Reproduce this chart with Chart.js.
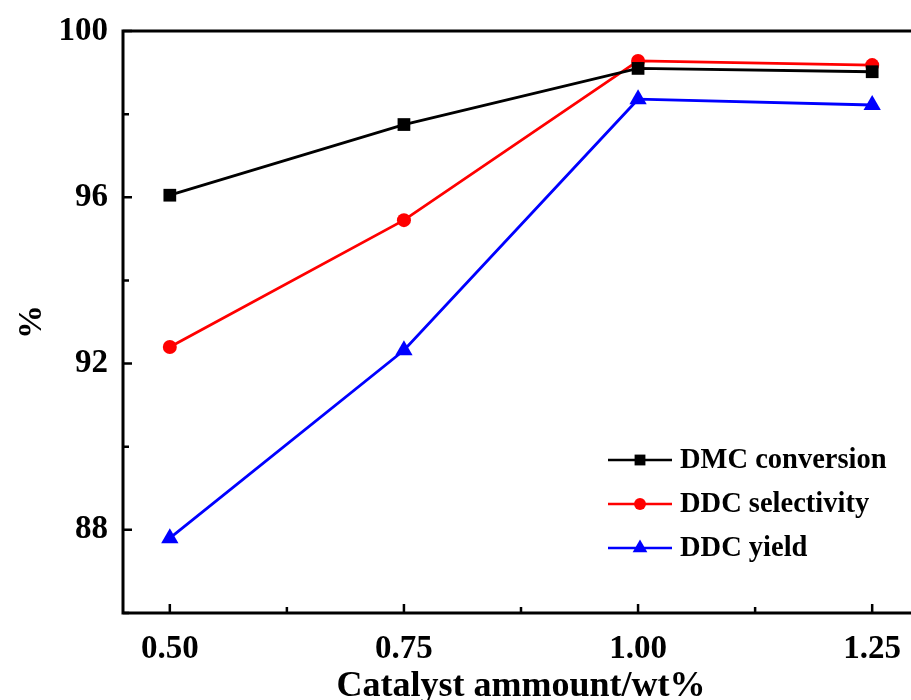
<!DOCTYPE html>
<html lang="en">
<head>
    <meta charset="UTF-8">
    <title>Catalyst amount</title>
    <script src="https://cdn.jsdelivr.net/npm/chart.js"></script>
    <style>
        body {
            margin: 0;
            background: #fff;
            overflow: hidden;
        }
        .wrap {
            width: 940px;
            height: 700px;
        }
    </style>
</head>
<body>
    <div class="wrap">
        <canvas id="chart" width="940" height="700"></canvas>
    </div>
    <script>
        // data
        const catalyst = [0.50, 0.75, 1.00, 1.25];
        const dmcConversion = [96.05, 97.75, 99.10, 99.02];
        const ddcSelectivity = [92.40, 95.45, 99.28, 99.18];
        const ddcYield = [87.80, 92.32, 98.36, 98.22];
        const xTicks = [0.50, 0.75, 1.00, 1.25];
        const yTicks = [88, 92, 96, 100];

        const serif = '"Liberation Serif", "Times New Roman", serif';

        const toPoints = arr => arr.map((v, i) => ({ x: catalyst[i], y: v }));

        // frame + inward ticks
        const framePlugin = {
            id: 'frame',
            afterDatasetsDraw(chart) {
                const { ctx, chartArea: a, scales } = chart;
                ctx.save();
                ctx.strokeStyle = '#000';
                ctx.lineWidth = 3;
                ctx.beginPath();
                ctx.moveTo(a.left, a.bottom);
                ctx.lineTo(a.left, a.top);
                ctx.lineTo(a.right, a.top);
                ctx.lineTo(a.right, a.bottom);
                ctx.closePath();
                ctx.stroke();

                ctx.lineWidth = 2.5;
                ctx.beginPath();
                xTicks.forEach(v => {
                    const px = scales.x.getPixelForValue(v);
                    ctx.moveTo(px, a.bottom); ctx.lineTo(px, a.bottom - 9);
                    const mid = scales.x.getPixelForValue(v + 0.125);
                    ctx.moveTo(mid, a.bottom); ctx.lineTo(mid, a.bottom - 6);
                });
                yTicks.forEach(v => {
                    const py = scales.y.getPixelForValue(v);
                    ctx.moveTo(a.left, py); ctx.lineTo(a.left + 9, py);
                    const mid = scales.y.getPixelForValue(v - 2);
                    ctx.moveTo(a.left, mid); ctx.lineTo(a.left + 6, mid);
                });
                ctx.stroke();
                ctx.restore();
            }
        };

        // legend drawn inside the plot, lower right
        const legendPlugin = {
            id: 'insideLegend',
            afterDatasetsDraw(chart) {
                const { ctx, chartArea: a } = chart;
                const x0 = a.left + 485;
                const y0 = a.bottom - 153;
                ctx.save();
                chart.data.datasets.forEach((ds, i) => {
                    const y = y0 + i * 44;
                    ctx.strokeStyle = ds.borderColor;
                    ctx.lineWidth = 2.5;
                    ctx.beginPath();
                    ctx.moveTo(x0, y);
                    ctx.lineTo(x0 + 64, y);
                    ctx.stroke();
                    ctx.fillStyle = ds.backgroundColor;
                    Chart.helpers.drawPoint(ctx, {
                        pointStyle: ds.pointStyle,
                        radius: ds.pointRadius * 0.85,
                        rotation: 0,
                        borderWidth: 0
                    }, x0 + 32, y);
                    ctx.fillStyle = '#000';
                    ctx.font = 'bold 28.5px ' + serif;
                    ctx.textBaseline = 'middle';
                    ctx.fillText(ds.label, x0 + 72, y + 1);
                });
                ctx.restore();
            }
        };

        new Chart(document.getElementById('chart'), {
            type: 'line',
            data: {
                datasets: [{
                    label: 'DMC conversion',
                    data: toPoints(dmcConversion),
                    borderColor: '#000000',
                    backgroundColor: '#000000',
                    pointStyle: 'rect',
                    pointRadius: 9
                }, {
                    label: 'DDC selectivity',
                    data: toPoints(ddcSelectivity),
                    borderColor: '#ff0000',
                    backgroundColor: '#ff0000',
                    pointStyle: 'circle',
                    pointRadius: 7
                }, {
                    label: 'DDC yield',
                    data: toPoints(ddcYield),
                    borderColor: '#0000ff',
                    backgroundColor: '#0000ff',
                    pointStyle: 'triangle',
                    pointRadius: 10
                }]
            },
            options: {
                responsive: false,
                animation: false,
                devicePixelRatio: 1,
                layout: {
                    padding: { top: 31, right: 21, left: 10, bottom: 0 }
                },
                elements: {
                    line: { borderWidth: 2.8, tension: 0 },
                    point: { borderWidth: 0, hoverRadius: 9 }
                },
                plugins: {
                    legend: { display: false },
                    tooltip: { enabled: false }
                },
                scales: {
                    x: {
                        type: 'linear',
                        min: 0.45,
                        max: 1.30,
                        afterBuildTicks: s => { s.ticks = xTicks.map(v => ({ value: v })); },
                        afterFit: s => { s.height = 87; },
                        grid: { display: false, drawTicks: false },
                        border: { display: false },
                        ticks: {
                            padding: 17,
                            color: '#000',
                            font: { family: serif, size: 33, weight: 'bold' },
                            callback: v => v.toFixed(2)
                        },
                        title: {
                            display: true,
                            text: 'Catalyst ammount/wt%',
                            color: '#000',
                            font: { family: serif, size: 36, weight: 'bold' },
                            padding: { top: -6, bottom: -8 }
                        }
                    },
                    y: {
                        min: 86,
                        max: 100,
                        afterBuildTicks: s => { s.ticks = yTicks.map(v => ({ value: v })); },
                        afterFit: s => { s.width = 113; s.paddingTop = 0; s.paddingBottom = 0; },
                        grid: { display: false, drawTicks: false },
                        border: { display: false },
                        ticks: {
                            padding: 15,
                            color: '#000',
                            font: { family: serif, size: 33, weight: 'bold' }
                        },
                        title: {
                            display: true,
                            text: '%',
                            color: '#000',
                            font: { family: serif, size: 34, weight: 'bold' },
                            padding: { top: 2, bottom: 9 }
                        }
                    }
                }
            },
            plugins: [framePlugin, legendPlugin]
        });
    </script>
</body>
</html>
